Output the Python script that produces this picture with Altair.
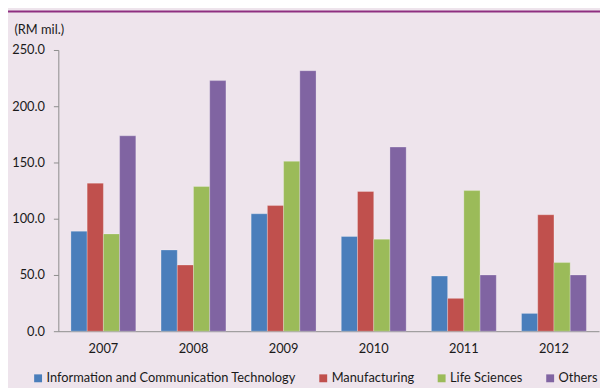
import altair as alt
import pandas as pd

years = ["2007", "2008", "2009", "2010", "2011", "2012"]
sectors = [
    "Information and Communication Technology",
    "Manufacturing",
    "Life Sciences",
    "Others",
]
ict = [88.9, 72.2, 104.4, 84.2, 49.0, 15.8]
manufacturing = [131.6, 58.8, 111.7, 124.2, 29.2, 103.5]
life_sciences = [86.5, 128.6, 151.0, 81.8, 125.0, 61.0]
others = [173.7, 222.8, 231.6, 163.7, 50.0, 50.0]
y_ticks = [0, 50, 100, 150, 200, 250]
colors = ["#4A7EBB", "#C0504D", "#9BBB59", "#8064A2"]

rows = []
for s, vals in zip(sectors, [ict, manufacturing, life_sciences, others]):
    for yr, v in zip(years, vals):
        rows.append({"Year": yr, "Sector": s, "Value": v})
df = pd.DataFrame(rows)

FONT = "Lato"
FS = 13
TXT = "#1a1a1a"
AXC = "#8C8C8C"

bars = alt.Chart(df).mark_bar(
    stroke="white", strokeOpacity=0.25, strokeWidth=1
).encode(
    x=alt.X(
        "Year:N",
        sort=years,
        scale=alt.Scale(paddingInner=0.28, paddingOuter=0.14),
        axis=alt.Axis(
            title=None, labelAngle=0, ticks=False, domainColor=AXC,
            labelPadding=18, labelBaseline="middle", labelFontSize=FS,
            labelColor=TXT, labelFont=FONT,
        ),
    ),
    xOffset=alt.XOffset(
        "Sector:N", sort=sectors,
        scale=alt.Scale(paddingInner=0, paddingOuter=0),
    ),
    y=alt.Y(
        "Value:Q",
        scale=alt.Scale(domain=[0, 250], nice=False),
        axis=alt.Axis(
            values=y_ticks, format=".1f", title="(RM mil.)",
            titleAngle=0, titleX=-45, titleY=-21, titleAlign="left",
            titleBaseline="middle", titleFontWeight="normal",
            titleFontSize=FS, titleColor=TXT, titleFont=FONT,
            grid=False, tickSize=5, tickColor=AXC, domainColor=AXC,
            labelPadding=9, labelFontSize=FS, labelColor=TXT, labelFont=FONT,
        ),
    ),
    color=alt.Color(
        "Sector:N",
        sort=sectors,
        scale=alt.Scale(domain=sectors, range=colors),
        legend=alt.Legend(
            title=None, orient="none", legendX=-27, legendY=326,
            direction="horizontal", columns=4, symbolType="square",
            symbolSize=64, symbolStrokeWidth=0, labelOffset=2,
            columnPadding=21, labelLimit=400, labelFontSize=FS,
            labelColor=TXT, labelFont=FONT, padding=0,
        ),
    ),
)

top_line = alt.Chart(pd.DataFrame({"k": [0]})).mark_rule(
    color="#8E2F80", strokeWidth=2
).encode(x=alt.value(-51), x2=alt.value(549), y=alt.value(-39))

chart = (
    alt.layer(bars, top_line)
    .properties(
        width=548,
        height=285,
        autosize=alt.AutoSizeParams(type="none"),
        padding={"left": 51, "top": 40, "right": 1, "bottom": 55},
        background="#EEE4EC",
    )
    .configure(font=FONT)
    .configure_view(stroke=None)
)

chart.save("out.html", embed_options={"renderer": "svg", "actions": False})
